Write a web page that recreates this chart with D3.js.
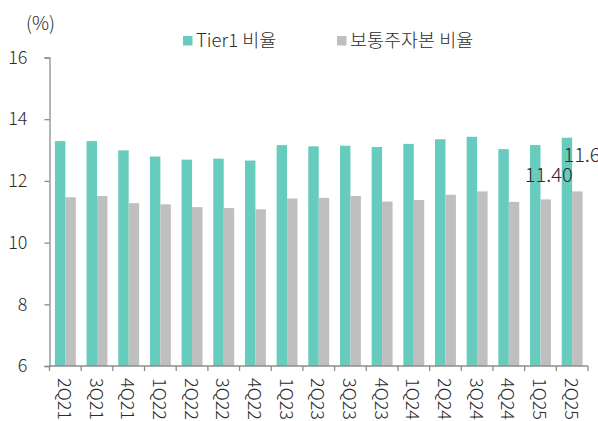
<!DOCTYPE html>
<html>
<head>
<meta charset="utf-8">
<script src="https://cdn.jsdelivr.net/npm/d3@7"></script>
<style>
  body { margin: 0; background: #fff; }
  svg text { font-family: "Noto Sans CJK KR", "Noto Sans", sans-serif; font-weight: 300; fill: #2b2b2b; }
</style>
</head>
<body>
<script>
const quarters = ['2Q21', '3Q21', '4Q21', '1Q22', '2Q22', '3Q22', '4Q22', '1Q23', '2Q23',
                  '3Q23', '4Q23', '1Q24', '2Q24', '3Q24', '4Q24', '1Q25', '2Q25']
const tier1 = [13.29, 13.29, 12.99, 12.79, 12.69, 12.72, 12.66, 13.16, 13.12,
               13.14, 13.10, 13.20, 13.35, 13.43, 13.03, 13.16, 13.40]
const cet1 = [11.47, 11.51, 11.28, 11.24, 11.15, 11.12, 11.08, 11.43, 11.45,
              11.51, 11.33, 11.38, 11.55, 11.66, 11.32, 11.40, 11.66]
const seriesNames = ['Tier1 비율', '보통주자본 비율']
const yTicks = [6, 8, 10, 12, 14, 16]
const labelled = ['1Q25', '2Q25']

const width = 598
const height = 421
const margin = {top: 57.5, right: 10, bottom: 55, left: 49.5}
const colors = ['#67cbbe', '#bfbfbf']

const svg = d3.select('body').append('svg')
    .attr('width', width)
    .attr('height', height)

const x0 = d3.scaleBand()
    .domain(quarters)
    .range([margin.left, width - margin.right])
    .paddingInner(0.34)
    .paddingOuter(0.17)

const x1 = d3.scaleBand()
    .domain(seriesNames)
    .range([0, x0.bandwidth()])

const y = d3.scaleLinear()
    .domain([6, 16])
    .range([height - margin.bottom, margin.top])

const step = x0.step()
const rows = quarters.map((q, i) => ({q: q, values: [tier1[i], cet1[i]]}))

// bars
svg.append('g').selectAll('g')
    .data(rows)
    .enter()
    .append('g')
    .attr('transform', d => `translate(${x0(d.q)},0)`)
    .selectAll('rect')
    .data(d => d.values.map((v, k) => ({name: seriesNames[k], value: v, k: k})))
    .enter()
    .append('rect')
    .attr('x', d => x1(d.name))
    .attr('y', d => y(d.value))
    .attr('width', x1.bandwidth())
    .attr('height', d => y(6) - y(d.value))
    .attr('fill', d => colors[d.k])

// y axis
const yAxis = svg.append('g')
    .attr('transform', `translate(${margin.left},0)`)
    .call(d3.axisLeft(y).tickValues(yTicks).tickSize(5).tickPadding(17).tickFormat(d3.format('d')))
yAxis.select('.domain').attr('stroke', '#8c8c8c').attr('stroke-width', 1.3)
yAxis.selectAll('.tick line').attr('stroke', '#8c8c8c').attr('stroke-width', 1.3)
yAxis.selectAll('.tick text').style('font-size', '18px').attr('fill', null)

// x axis: line with ticks at band edges
const xAxisY = y(6)
const xg = svg.append('g')
xg.append('line')
    .attr('x1', margin.left).attr('x2', width - margin.right)
    .attr('y1', xAxisY).attr('y2', xAxisY)
    .attr('stroke', '#8c8c8c').attr('stroke-width', 1.3)
xg.selectAll('.edge')
    .data(d3.range(quarters.length + 1))
    .enter()
    .append('line')
    .attr('x1', i => margin.left + i * step)
    .attr('x2', i => margin.left + i * step)
    .attr('y1', xAxisY).attr('y2', xAxisY + 5)
    .attr('stroke', '#8c8c8c').attr('stroke-width', 1.3)
xg.selectAll('text')
    .data(quarters)
    .enter()
    .append('text')
    .attr('transform', d => `translate(${x0(d) + x0.bandwidth() / 2 - 1},${xAxisY + 12}) rotate(90)`)
    .attr('dy', '0.35em')
    .style('font-size', '18px')
    .text(d => d)

// data labels on the last two CET1 bars (the last one runs off the edge, as in the source)
const labelOffsets = [{dx: 3, dy: 17}, {dx: 10, dy: 29}]
svg.append('g').selectAll('text')
    .data(labelled)
    .enter()
    .append('text')
    .attr('x', (q, i) => x0(q) + x1(seriesNames[1]) + x1.bandwidth() / 2 + labelOffsets[i].dx)
    .attr('y', (q, i) => y(cet1[quarters.indexOf(q)]) - labelOffsets[i].dy)
    .attr('text-anchor', 'middle')
    .style('font-size', '20px')
    .text(q => d3.format('.2f')(cet1[quarters.indexOf(q)]))

// unit
svg.append('text')
    .attr('x', 40.5).attr('y', 30)
    .attr('text-anchor', 'middle')
    .style('font-size', '19px')
    .text('(%)')

// legend
const legendX = [183, 337]
const legend = svg.append('g').selectAll('g')
    .data(seriesNames)
    .enter()
    .append('g')
    .attr('transform', (d, i) => `translate(${legendX[i]},36)`)
legend.append('rect')
    .attr('width', 9.5).attr('height', 9.5)
    .attr('fill', (d, i) => colors[i])
legend.append('text')
    .attr('x', 13).attr('y', 10.5)
    .style('font-size', '18.5px')
    .text(d => d)
</script>
</body>
</html>
